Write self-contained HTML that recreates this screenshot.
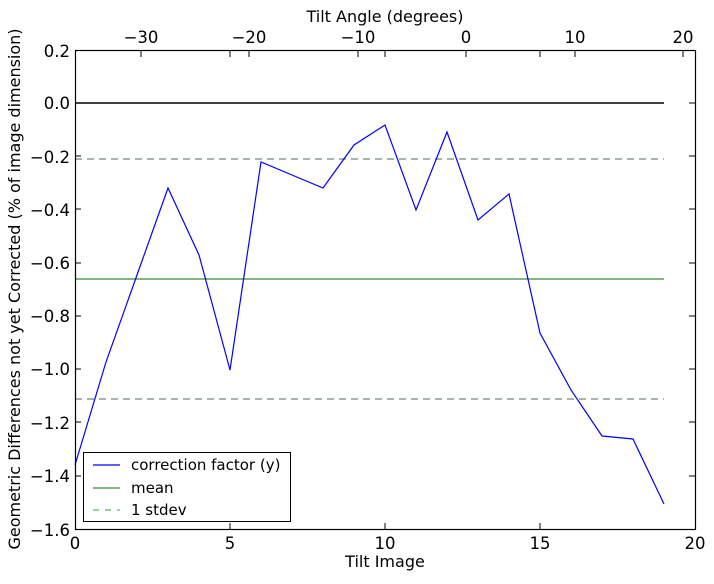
<!DOCTYPE html>
<html><head><style>body{margin:0;background:#fff}</style></head><body>
<svg width="714" height="579" xmlns="http://www.w3.org/2000/svg" font-family="DejaVu Sans, Liberation Sans, sans-serif" font-size="16.5">
<rect width="714" height="579" fill="#fff"/>
<line x1="75" y1="103" x2="664" y2="103" stroke="#000" stroke-width="1.5"/>
<line x1="75" y1="279" x2="664" y2="279" stroke="#3a8a3a" stroke-width="1.2"/>
<line x1="75" y1="159" x2="664" y2="159" stroke="#6a8a7a" stroke-width="1.2" stroke-dasharray="7,5"/>
<line x1="75" y1="399" x2="664" y2="399" stroke="#6a8a7a" stroke-width="1.2" stroke-dasharray="7,5"/>
<polyline fill="none" stroke="#0000ff" stroke-width="1.2" points="75,465 106,362 137,275 168,188 199,255 230,370 261,162 292,175 323,188 354,145 385,125 416,210 447,132 478,220 509,194 540,333 571,390 602,436 633,439 664,504"/>
<rect x="75.5" y="50.5" width="620" height="479" fill="none" stroke="#000" stroke-width="1.2"/>
<g stroke="#000" stroke-width="1">
<line x1="230" y1="529" x2="230" y2="523"/><line x1="385" y1="529" x2="385" y2="523"/><line x1="540" y1="529" x2="540" y2="523"/>
<line x1="230" y1="51" x2="230" y2="57"/><line x1="385" y1="51" x2="385" y2="57"/><line x1="540" y1="51" x2="540" y2="57"/>
<line x1="141" y1="51" x2="141" y2="57"/><line x1="249" y1="51" x2="249" y2="57"/><line x1="358" y1="51" x2="358" y2="57"/><line x1="466" y1="51" x2="466" y2="57"/><line x1="575" y1="51" x2="575" y2="57"/><line x1="683" y1="51" x2="683" y2="57"/>
<line x1="75" y1="103" x2="81" y2="103"/><line x1="75" y1="156" x2="81" y2="156"/><line x1="75" y1="209" x2="81" y2="209"/><line x1="75" y1="263" x2="81" y2="263"/><line x1="75" y1="316" x2="81" y2="316"/><line x1="75" y1="369" x2="81" y2="369"/><line x1="75" y1="422" x2="81" y2="422"/><line x1="75" y1="476" x2="81" y2="476"/>
<line x1="695" y1="103" x2="689" y2="103"/><line x1="695" y1="156" x2="689" y2="156"/><line x1="695" y1="209" x2="689" y2="209"/><line x1="695" y1="263" x2="689" y2="263"/><line x1="695" y1="316" x2="689" y2="316"/><line x1="695" y1="369" x2="689" y2="369"/><line x1="695" y1="422" x2="689" y2="422"/><line x1="695" y1="476" x2="689" y2="476"/>
</g>
<g text-anchor="middle">
<text x="75" y="549">0</text><text x="230" y="549">5</text><text x="385" y="549">10</text><text x="540" y="549">15</text><text x="695" y="549">20</text>
<text x="141" y="43">−30</text><text x="249" y="43">−20</text><text x="358" y="43">−10</text><text x="466" y="43">0</text><text x="575" y="43">10</text><text x="683" y="43">20</text>
<text x="385" y="567" font-size="16">Tilt Image</text>
<text x="385" y="22" font-size="16">Tilt Angle (degrees)</text>
</g>
<g text-anchor="end">
<text x="70" y="57">0.2</text><text x="70" y="109">0.0</text><text x="70" y="163">−0.2</text><text x="70" y="216">−0.4</text><text x="70" y="269">−0.6</text><text x="70" y="322">−0.8</text><text x="70" y="375">−1.0</text><text x="70" y="429">−1.2</text><text x="70" y="482">−1.4</text><text x="70" y="536">−1.6</text>
</g>
<text transform="translate(20,289) rotate(-90)" text-anchor="middle" font-size="16">Geometric Differences not yet Corrected (% of image dimension)</text>
<rect x="83.5" y="452.5" width="207" height="69" fill="#fff" stroke="#000" stroke-width="1"/>
<line x1="93" y1="465" x2="120" y2="465" stroke="#0000ff" stroke-width="1.2"/>
<line x1="93" y1="488" x2="120" y2="488" stroke="#3a8a3a" stroke-width="1.2"/>
<line x1="93" y1="510" x2="120" y2="510" stroke="#55bb55" stroke-width="1.2" stroke-dasharray="6,6"/>
<g font-size="15"><text x="131" y="470">correction factor (y)</text><text x="131" y="493">mean</text><text x="131" y="515">1 stdev</text></g>
</svg>
</body></html>
